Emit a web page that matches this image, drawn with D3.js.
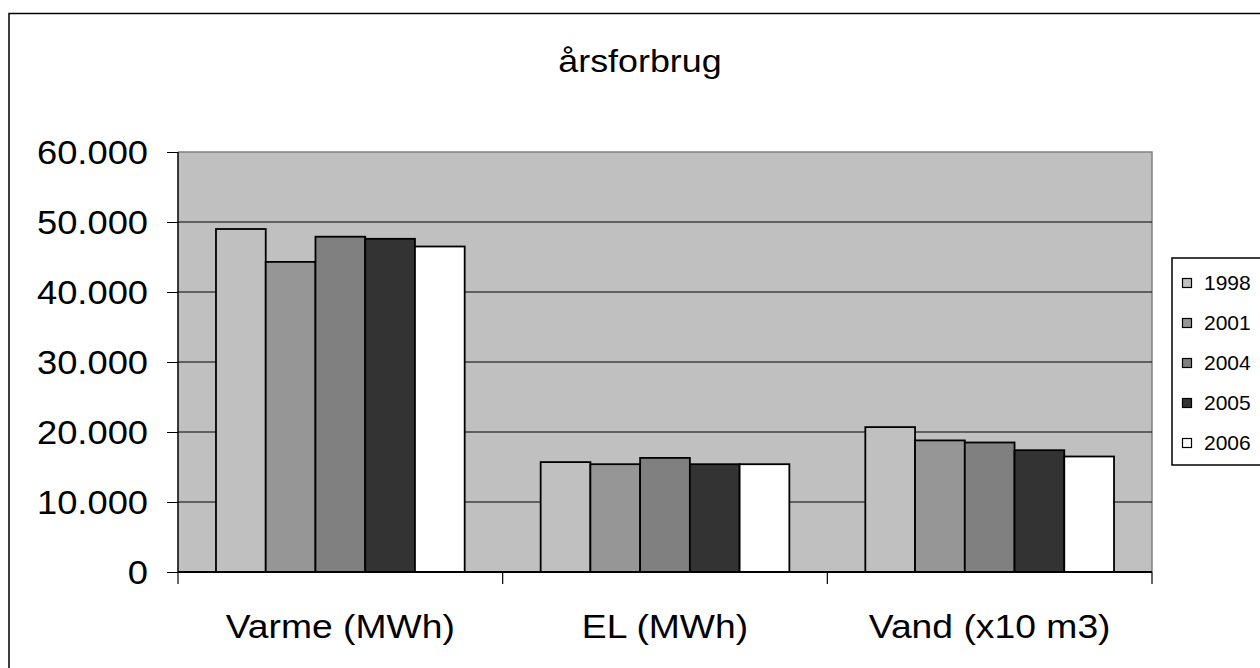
<!DOCTYPE html>
<html><head><meta charset="utf-8">
<script src="https://cdn.jsdelivr.net/npm/d3@7"></script>
<style>html,body{margin:0;padding:0;background:#fff;}svg{display:block;font-family:"Liberation Sans",Arial,sans-serif;}</style>
</head><body>
<svg id="c" width="1260" height="668"></svg>
<script>
const categories = ["Varme (MWh)", "EL (MWh)", "Vand (x10 m3)"];
const years = ["1998", "2001", "2004", "2005", "2006"];
const values1998 = [49000, 15700, 20700];
const values2001 = [44300, 15400, 18800];
const values2004 = [47900, 16300, 18500];
const values2005 = [47600, 15400, 17400];
const values2006 = [46500, 15400, 16500];
const seriesValues = [values1998, values2001, values2004, values2005, values2006];
const colors = ["#c0c0c0", "#969696", "#808080", "#333333", "#ffffff"];
const yTicks = [0, 10000, 20000, 30000, 40000, 50000, 60000];
const title = "årsforbrug";

const svg = d3.select("#c");
const L = 178, R = 1152, T = 152, B = 572;
const fmt = v => d3.format(",")(v).replace(/,/g, ".");

// outer border
svg.append("rect").attr("x", 9).attr("y", 13.5).attr("width", 1400).attr("height", 800)
  .attr("fill", "#fff").attr("stroke", "#000").attr("stroke-width", 1.5);

svg.append("text").attr("transform", "translate(640,72) scale(1.12,1)").attr("text-anchor", "middle")
  .attr("font-size", 32).text(title);

const x0 = d3.scaleBand().domain(categories).range([L, R]).padding(0);
const bw = x0.bandwidth();
const x1 = d3.scaleBand().domain(years).range([bw * 0.117, bw * 0.883]).padding(0);
const y = d3.scaleLinear().domain([0, 60000]).range([B, T]);

// plot background
svg.append("rect").attr("x", L).attr("y", T).attr("width", R - L).attr("height", B - T)
  .attr("fill", "#c0c0c0");
svg.append("path").attr("d", `M${L},${T}H${R}V${B}`).attr("fill", "none")
  .attr("stroke", "#808080").attr("stroke-width", 1.5);

// gridlines
svg.append("g").selectAll("line").data(yTicks.filter(d => d > 0 && d < 60000)).join("line")
  .attr("x1", L).attr("x2", R).attr("y1", d => y(d)).attr("y2", d => y(d))
  .attr("stroke", "#000").attr("stroke-width", 1);

// bars
const g = svg.append("g");
categories.forEach((c, ci) => {
  years.forEach((yr, si) => {
    const v = seriesValues[si][ci];
    g.append("rect")
      .attr("x", x0(c) + x1(yr)).attr("width", x1.bandwidth())
      .attr("y", y(v)).attr("height", y(0) - y(v))
      .attr("fill", colors[si]).attr("stroke", "#000").attr("stroke-width", 1.8);
  });
});

// y axis
const yAxis = d3.axisLeft(y).tickValues(yTicks).tickSize(11).tickPadding(0).tickFormat(fmt);
const ya = svg.append("g").attr("transform", `translate(${L},0)`).call(yAxis);
ya.select(".domain").attr("stroke", "#000").attr("stroke-width", 1.5).attr("d", `M0,${T}V${B}`);
ya.selectAll(".tick line").attr("stroke", "#000");
ya.selectAll(".tick text").remove();
ya.selectAll(".tick").append("text")
  .attr("transform", "translate(-30,0) scale(1.1,1)")
  .attr("text-anchor", "end").attr("dy", "0.35em").attr("fill", "#000")
  .attr("font-size", 33).text(d => fmt(d));

// x axis
svg.append("line").attr("x1", L).attr("x2", R).attr("y1", B).attr("y2", B)
  .attr("stroke", "#000").attr("stroke-width", 2);
const edges = categories.map(c => x0(c)).concat([R]);
svg.append("g").selectAll("line").data(edges).join("line")
  .attr("x1", d => d).attr("x2", d => d).attr("y1", B).attr("y2", B + 12)
  .attr("stroke", "#000").attr("stroke-width", 1.2);
svg.append("g").selectAll("text").data(categories).join("text")
  .attr("transform", d => `translate(${x0(d) + bw / 2},638) scale(1.13,1)`)
  .attr("text-anchor", "middle").attr("font-size", 33).text(d => d);

// legend
svg.append("rect").attr("x", 1172).attr("y", 258).attr("width", 200).attr("height", 207)
  .attr("fill", "#fff").attr("stroke", "#000").attr("stroke-width", 1.5);
const lg = svg.append("g").selectAll("g").data(years).join("g")
  .attr("transform", (d, i) => `translate(1182,${283 + i * 40})`);
lg.append("rect").attr("x", 0.5).attr("y", -4.5).attr("width", 9).attr("height", 9)
  .attr("fill", (d, i) => colors[i]).attr("stroke", "#000").attr("stroke-width", 1.2);
lg.append("text").attr("x", 22).attr("dy", "0.35em").attr("font-size", 21).text(d => d);
</script>
</body></html>
